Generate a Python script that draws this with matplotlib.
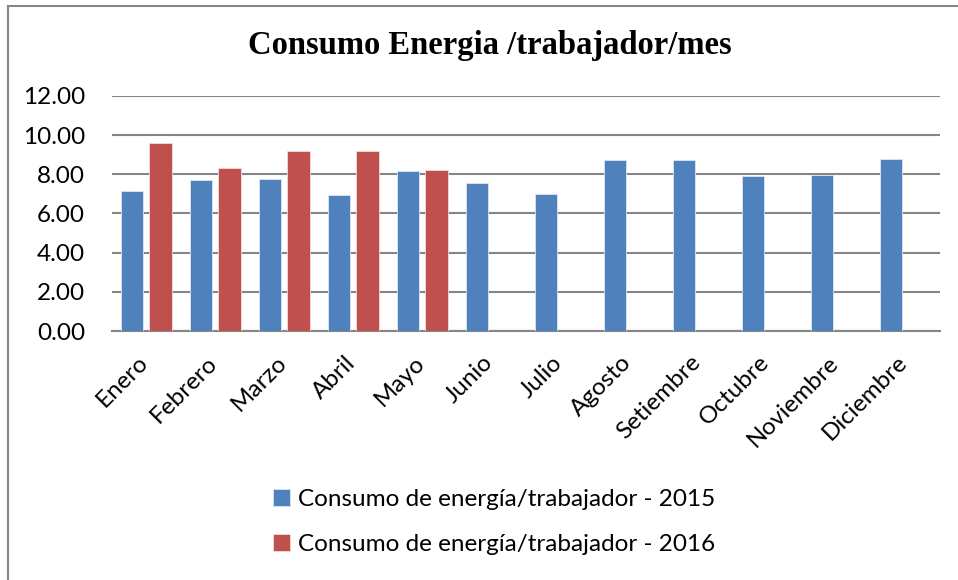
import numpy as np
import matplotlib.pyplot as plt
import matplotlib.transforms as mtransforms
from matplotlib.patches import Rectangle

meses = ["Enero", "Febrero", "Marzo", "Abril", "Mayo", "Junio", "Julio",
         "Agosto", "Setiembre", "Octubre", "Noviembre", "Diciembre"]
consumo_2015 = [7.15, 7.70, 7.78, 6.93, 8.15, 7.58, 7.02, 8.71, 8.71, 7.90, 7.95, 8.76]
consumo_2016 = [9.61, 8.34, 9.17, 9.21, 8.24, np.nan, np.nan, np.nan, np.nan, np.nan, np.nan, np.nan]
yticks = [0, 2, 4, 6, 8, 10, 12]

azul = "#4F81BD"
rojo = "#C0504D"

fig = plt.figure(figsize=(9.58, 5.8), dpi=100)
ax = fig.add_axes([0.1169, 0.4293, 0.8643, 0.4052])

x = np.arange(len(meses))
w = 0.333
ax.bar(x - 0.21, consumo_2015, w, color=azul, edgecolor="#dce6f2", linewidth=0.6,
       label="Consumo de energía/trabajador - 2015", zorder=3)
ax.bar(x + 0.21, consumo_2016, w, color=rojo, edgecolor="#f2dcdb", linewidth=0.6,
       label="Consumo de energía/trabajador - 2016", zorder=3)

ax.set_xlim(-0.5, len(meses) - 0.5)
ax.set_ylim(0, 12)
ax.set_yticks(yticks)
ax.set_yticklabels([f"{v:.2f}" for v in yticks], fontfamily="Lato", fontsize=17.5)
ax.tick_params(axis="y", length=0, pad=19.5)
ax.tick_params(axis="x", length=0, pad=15)
ax.set_xticks(x)
ax.set_xticklabels(meses, rotation=45, ha="right", rotation_mode="anchor",
                   fontfamily="Lato", fontsize=17.5)
shift = mtransforms.ScaledTranslation(-0.09, 0, fig.dpi_scale_trans)
for lbl in ax.get_xticklabels():
    lbl.set_transform(lbl.get_transform() + shift)

ax.grid(axis="y", color="#868686", linewidth=1.5, zorder=0)
for s in ["left", "right", "top"]:
    ax.spines[s].set_visible(False)
ax.spines["bottom"].set_color("#868686")
ax.spines["bottom"].set_linewidth(1.5)

fig.text(0.511, 0.921, "Consumo Energia /trabajador/mes", ha="center", va="center",
         fontfamily="Liberation Serif", fontweight="bold", fontsize=23.5)

leg = fig.legend(loc="center left", bbox_to_anchor=(0.262, 0.1, 0.5, 0.0), frameon=False,
                 prop={"family": "Lato", "size": 17.5}, handlelength=0.7,
                 handleheight=0.7, handletextpad=0.35, labelspacing=1.0)

fig.add_artist(Rectangle((0.0084, -0.05), 1.2, 1.0397, transform=fig.transFigure,
                         fill=False, edgecolor="#868686", linewidth=1.5))

fig.savefig("out.png", dpi=100)
